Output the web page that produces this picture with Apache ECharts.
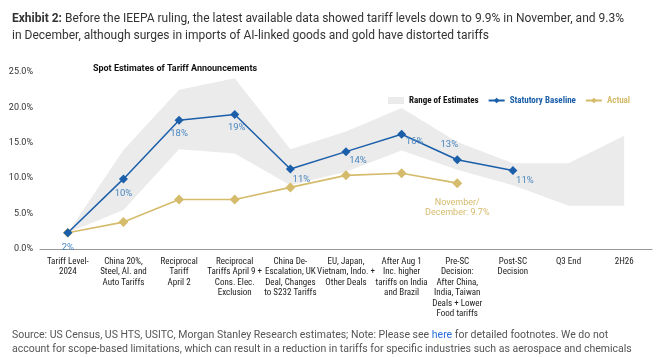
<!DOCTYPE html>
<html><head><meta charset="utf-8">
<script src="https://cdn.jsdelivr.net/npm/echarts@6/dist/echarts.min.js"></script>
<style>html,body{margin:0;padding:0;background:#fff}#c{width:659px;height:357px}</style>
</head><body><div id="c"></div>
<script>
const categories = [
  'Tariff Level-\n2024',
  'China 20%,\nSteel, Al. and\nAuto Tariffs',
  'Reciprocal\nTariff\nApril 2',
  'Reciprocal\nTariffs April 9 +\nCons. Elec.\nExclusion',
  'China De-\nEscalation, UK\nDeal, Changes\nto S232 Tariffs',
  'EU, Japan,\nVietnam, Indo. +\nOther Deals',
  'After Aug 1\nInc. higher\ntariffs on India\nand Brazil',
  'Pre-SC\nDecision:\nAfter China,\nIndia, Taiwan\nDeals + Lower\nFood tariffs',
  'Post-SC\nDecision',
  'Q3 End',
  '2H26'
];
const statutory = [2.3, 9.9, 18.2, 19.0, 11.3, 13.75, 16.2, 12.6, 11.1, null, null];
const actual = [2.3, 3.8, 7.0, 7.0, 8.7, 10.4, 10.7, 9.3, null, null, null];
const rangeLow = [2.3, 5.5, 14.1, 13.5, 9.0, 10.9, 13.9, 11.2, 9.0, 6.1, 6.1];
const rangeHigh = [2.3, 14.0, 22.5, 24.1, 14.1, 16.6, 19.9, 15.1, 12.1, 12.1, 16.0];
const yTicks = [0, 5, 10, 15, 20, 25];
const actualNote = 'November/\nDecember: 9.7%';

const BLUE = '#1b5ea9', LBLUE = '#4a86c0', GOLD = '#d5bb6c', GREY = '#ebebeb';
const NARROW = 'Liberation Sans Narrow, Roboto Condensed, Roboto';
const labelOffsets = [[0,1],[0,1],[0,0],[2,0],[11,-3],[12,-5],[13,-6],[-8,-2],[12,-3]];
const labelPos = ['bottom','bottom','bottom','bottom','bottom','bottom','bottom','top','bottom'];

const chart = echarts.init(document.getElementById('c'));
chart.setOption({
  animation: false,
  textStyle: {fontFamily: 'Roboto'},
  title: [{
    left: 7, top: 5,
    text: '{b|Exhibit 2:} Before the IEEPA ruling, the latest available data showed tariff levels down to 9.9% in November, and 9.3%\nin December, although surges in imports of AI-linked goods and gold have distorted tariffs',
    textStyle: {fontSize: 12, fontWeight: 'normal', color: '#333', lineHeight: 17, fontFamily: 'Roboto',
      rich: {b: {fontWeight: 'bold', fontSize: 12, color: '#333', fontFamily: 'Roboto'}}}
  }, {
    left: 170, top: 59, textAlign: 'center',
    text: 'Spot Estimates of Tariff Announcements',
    textStyle: {fontSize: 9, fontWeight: 'bold', color: '#111', fontFamily: 'Roboto'}
  }, {
    left: 7, top: 323,
    text: 'Source: US Census, US HTS, USITC, Morgan Stanley Research estimates; Note: Please see {l|here} for detailed footnotes. We do not\naccount for scope-based limitations, which can result in a reduction in tariffs for specific industries such as aerospace and chemicals',
    textStyle: {fontSize: 10.5, fontWeight: 'normal', color: '#555', lineHeight: 14.5, fontFamily: 'Roboto',
      rich: {l: {color: '#2a6fdb', fontSize: 10.5, fontFamily: 'Roboto'}}}
  }],
  legend: {
    left: 383, top: 91, width: 276, itemWidth: 16, itemHeight: 7, itemGap: 9,
    textStyle: {fontSize: 9, fontWeight: 'bold', fontFamily: NARROW},
    data: [
      {name: 'Range of Estimates', icon: 'rect', itemStyle: {color: GREY}, textStyle: {color: '#111'}},
      {name: 'Statutory Baseline', textStyle: {color: BLUE}},
      {name: 'Actual', textStyle: {color: GOLD}}
    ]
  },
  grid: {left: 40, right: 7, top: 72, bottom: 108},
  xAxis: {
    type: 'category', data: categories, boundaryGap: true,
    axisLine: {lineStyle: {color: '#999', width: 1}},
    axisTick: {show: false},
    axisLabel: {interval: 0, fontSize: 9, color: '#222', lineHeight: 10.5, margin: 7, fontFamily: NARROW}
  },
  yAxis: {
    type: 'value', min: yTicks[0], max: yTicks[yTicks.length - 1], interval: 5,
    splitLine: {show: false}, axisLine: {show: false}, axisTick: {show: false},
    axisLabel: {fontSize: 9, color: '#333', margin: 7, formatter: v => v.toFixed(1) + '%'}
  },
  series: [
    {name: 'rangeLow', type: 'line', stack: 'r', data: rangeLow, symbol: 'none',
      lineStyle: {opacity: 0}, silent: true},
    {name: 'Range of Estimates', type: 'line', stack: 'r', symbol: 'none',
      data: rangeHigh.map((v, i) => +(v - rangeLow[i]).toFixed(3)),
      lineStyle: {opacity: 0}, itemStyle: {color: GREY}, areaStyle: {color: GREY, opacity: 1}, silent: true},
    {name: 'Actual', type: 'line', data: actual.map((v, i) => i === 7 ? {value: v, label: {show: true,
        position: 'bottom', distance: 10, formatter: actualNote, color: GOLD, fontSize: 9, lineHeight: 10}} : v),
      symbol: 'diamond', symbolSize: 10, itemStyle: {color: GOLD}, lineStyle: {color: GOLD, width: 1.6}, z: 3},
    {name: 'Statutory Baseline', type: 'line',
      data: statutory.map((v, i) => v == null ? v : {value: v, label: {show: true, position: labelPos[i],
        offset: labelOffsets[i], distance: 4}}),
      symbol: 'diamond', symbolSize: 9, itemStyle: {color: BLUE}, lineStyle: {color: BLUE, width: 1.5}, z: 4,
      label: {show: true, color: LBLUE, fontSize: 9.5, formatter: p => Math.round(p.value) + '%'}}
  ]
});
</script></body></html>
